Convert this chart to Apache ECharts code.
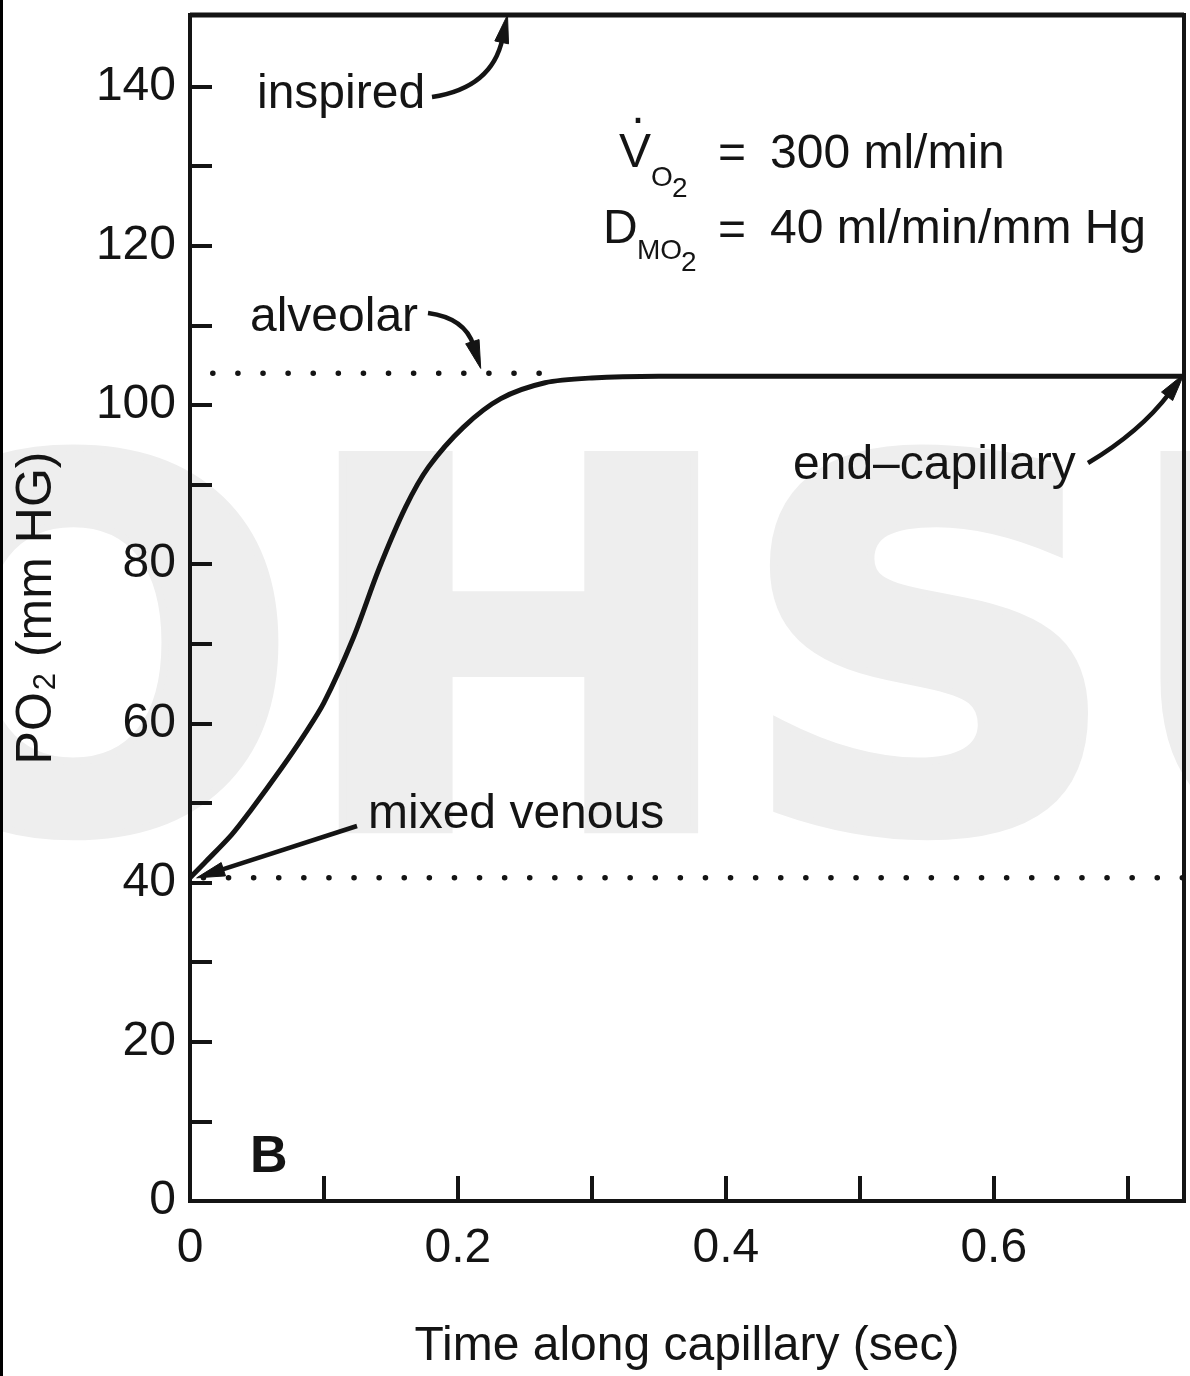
<!DOCTYPE html>
<html><head><meta charset="utf-8">
<script src="https://cdn.jsdelivr.net/npm/echarts/dist/echarts.min.js"></script>
<style>html,body{margin:0;padding:0;background:#fff}#c{width:1190px;height:1376px}</style>
</head><body><div id="c"></div>
<script>
// ---- data ----
const TIME = [0, 0.011, 0.031, 0.045, 0.068, 0.085, 0.100, 0.122, 0.141, 0.161, 0.178, 0.204, 0.232, 0.265, 0.30, 0.35, 0.45, 0.55, 0.65, 0.742];
const PO2  = [40.6, 42.5, 46.0, 49.0, 54.3, 58.5, 62.6, 70.8, 79.4, 87.2, 92.2, 97.2, 100.8, 102.8, 103.4, 103.6, 103.6, 103.6, 103.6, 103.6];
const INSPIRED = 149;
const ALVEOLAR = 104;
const MIXED_VENOUS = 40.6;
const ALVEOLAR_SPAN = [0.017, 0.265];
const MIXED_SPAN = [0.01, 0.742];
const X_MAX = 0.742;
const Y_MAX = 149;
const X_LABELS = ['0', '0.2', '0.4', '0.6'];
const Y_LABELS = ['0', '20', '40', '60', '80', '100', '120', '140'];

const INK = '#141414';
const FONT = "'Liberation Sans', Arial, Helvetica, sans-serif";

const chart = echarts.init(document.getElementById('c'), null, {renderer: 'canvas'});

const option = {
  backgroundColor: '#ffffff',
  animation: false,
  grid: {left: 190, right: 6, top: 15, bottom: 161, show: true, borderWidth: 4, borderColor: INK, backgroundColor: 'transparent'},
  xAxis: {
    type: 'value', min: 0, max: X_MAX, interval: 0.1,
    name: 'Time along capillary (sec)', nameLocation: 'middle', nameGap: 122,
    nameTextStyle: {fontSize: 48, color: INK, fontFamily: FONT},
    axisLine: {show: true, lineStyle: {color: INK, width: 4}},
    axisTick: {show: true, inside: true, length: 25, lineStyle: {color: INK, width: 4}},
    splitLine: {show: false},
    axisLabel: {
      fontSize: 48, color: INK, fontFamily: FONT, margin: 24, showMaxLabel: false,
      formatter: v => { const k = Math.round(v * 10); return (k % 2 === 0 && X_LABELS[k / 2] !== undefined && Math.abs(v - k / 10) < 1e-6) ? X_LABELS[k / 2] : ''; }
    }
  },
  yAxis: {
    type: 'value', min: 0, max: Y_MAX, interval: 10,
    name: '{a|PO}{s|2}{a| (mm HG)}', nameLocation: 'middle', nameGap: 128, nameRotate: 90,
    nameTextStyle: {
      fontSize: 50, color: INK, fontFamily: FONT,
      rich: {
        a: {fontSize: 50, color: INK, fontFamily: FONT},
        s: {fontSize: 31, color: INK, fontFamily: FONT, verticalAlign: 'bottom', padding: [14, 2, 0, 2]}
      }
    },
    axisLine: {show: true, lineStyle: {color: INK, width: 4}},
    axisTick: {show: true, inside: true, length: 22, lineStyle: {color: INK, width: 4}},
    splitLine: {show: false},
    axisLabel: {
      fontSize: 48, color: INK, fontFamily: FONT, margin: 14, showMaxLabel: false,
      formatter: v => { const k = Math.round(v); return (k % 20 === 0 && Y_LABELS[k / 20] !== undefined && Math.abs(v - k) < 1e-6) ? Y_LABELS[k / 20] : ''; }
    }
  },
  series: [
    {
      name: 'capillary PO2', type: 'line', smooth: 0.3, showSymbol: false, z: 5,
      data: TIME.map((t, i) => [t, PO2[i]]),
      lineStyle: {color: INK, width: 5}
    },
    {
      name: 'inspired', type: 'line', showSymbol: false, clip: false, z: 6,
      data: [[0, INSPIRED], [X_MAX, INSPIRED]],
      lineStyle: {color: INK, width: 5}
    },
    {
      name: 'alveolar', type: 'line', showSymbol: false, z: 4,
      data: [[ALVEOLAR_SPAN[0], ALVEOLAR], [ALVEOLAR_SPAN[1], ALVEOLAR]],
      lineStyle: {color: INK, width: 5.5, type: [0.1, 25], cap: 'round'}
    },
    {
      name: 'mixed venous', type: 'line', showSymbol: false, z: 4,
      data: [[MIXED_SPAN[0], MIXED_VENOUS], [MIXED_SPAN[1], MIXED_VENOUS]],
      lineStyle: {color: INK, width: 5.5, type: [0.1, 25], cap: 'round'}
    }
  ]
};
chart.setOption(option);

function px(x, y) { return chart.convertToPixel({gridIndex: 0}, [x, y]); }

function arrow(p0, cp, p1) {
  const dx = p1[0] - cp[0], dy = p1[1] - cp[1];
  const len = Math.hypot(dx, dy) || 1;
  const ux = dx / len, uy = dy / len;
  const L = 28, W = 7;
  const bx = p1[0] - ux * L, by = p1[1] - uy * L;
  const nx = -uy, ny = ux;
  return [
    {type: 'bezierCurve', z: 100, silent: true,
     shape: {x1: p0[0], y1: p0[1], x2: bx + ux * 4, y2: by + uy * 4, cpx1: cp[0], cpy1: cp[1]},
     style: {stroke: INK, lineWidth: 4.5, fill: null}},
    {type: 'polygon', z: 100, silent: true,
     shape: {points: [[p1[0], p1[1]], [bx + nx * W, by + ny * W], [bx - nx * W, by - ny * W]]},
     style: {fill: INK, stroke: INK, lineWidth: 1}}
  ];
}

function txt(text, x, y, size, weight) {
  return {type: 'text', z: 100, silent: true, x: x, y: y,
    style: {text: text, fill: INK, font: (weight ? weight + ' ' : '') + size + 'px ' + FONT,
            textAlign: 'left', textVerticalAlign: 'middle'}};
}

const inspTip = px(0.237, INSPIRED);
const alvTip = px(0.217, 104.6);
const endTip = px(X_MAX, 103.9);
const mvTip = px(0.005, MIXED_VENOUS);

const graphics = [
  {type: 'text', z: -100, silent: true, x: -151, y: 695, scaleX: 1.045,
   style: {text: 'OHSU', fill: '#eeeeee', stroke: '#eeeeee', lineWidth: 14,
           font: "bold 505px 'DejaVu Sans', sans-serif", textAlign: 'left', textVerticalAlign: 'middle'}},
  {type: 'rect', z: 100, silent: true, shape: {x: 0, y: 0, width: 3, height: 1376}, style: {fill: '#000'}},
  txt('inspired', 257, 95, 48),
  txt('alveolar', 250, 318, 48),
  txt('end–capillary', 793, 466, 48),
  txt('mixed venous', 368, 815, 48),
  txt('B', 250, 1158, 52, 'bold'),
  // formulas
  txt('V', 619, 154, 48),
  txt('·', 630, 121, 48),
  txt('O', 651, 178, 28),
  txt('2', 672, 189, 28),
  txt('=', 718, 155, 48),
  txt('300 ml/min', 770, 155, 48),
  txt('D', 603, 230, 48),
  txt('MO', 637, 251, 28),
  txt('2', 681, 263, 28),
  txt('=', 718, 232, 48),
  txt('40 ml/min/mm Hg', 770, 230, 48)
].concat(
  arrow([432, 97], [492, 88], inspTip),
  arrow([428, 313], [465, 318], alvTip),
  arrow([1088, 463], [1140, 432], endTip),
  arrow([357, 826], [(357 + mvTip[0]) / 2, (826 + mvTip[1]) / 2], mvTip)
);

chart.setOption({graphic: {elements: graphics}});
</script>
</body></html>
